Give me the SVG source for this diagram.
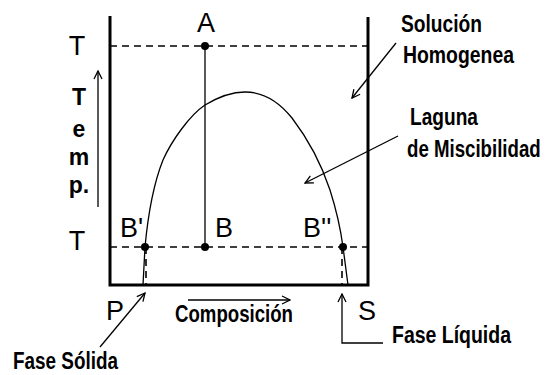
<svg xmlns="http://www.w3.org/2000/svg" width="548" height="375" viewBox="0 0 548 375">
<style>
.lbl{font-family:"Liberation Sans",Arial,sans-serif;font-size:27px;fill:#000}
.tmp{font-family:"Liberation Sans",Arial,sans-serif;font-size:23px;font-weight:bold;fill:#000}
.nar{font-family:"Liberation Sans",Arial,sans-serif;font-size:23px;font-weight:bold;fill:#000}
.wall{stroke:#000;stroke-width:3;fill:none}
.dash{stroke:#000;stroke-width:1.6;stroke-dasharray:7,5;fill:none}
.thin{stroke:#000;stroke-width:1.3;fill:none}
</style>
<defs>
<marker id="open" viewBox="0 0 10 10" refX="9" refY="5" markerWidth="10" markerHeight="10" markerUnits="userSpaceOnUse" orient="auto">
<polyline points="1,1 9,5 1,9" fill="none" stroke="#000" stroke-width="1.3"/>
</marker>
</defs>
<rect width="548" height="375" fill="#fff"/>
<g id="frame">
<polyline class="wall" points="110,16 110,285 368,285 368,17"/>
</g>
<g id="curve">
<path class="thin" d="M143,285 L145,247 C148,215 153,185 163,160 C172,140 190,115 205,105 C220,96 232,92 245,92 C265,92 280,103 292,118 C305,135 320,160 330,190 C337,212 341,232 343,247 L348,285"/>
</g>
<g id="connectors">
<line class="dash" x1="110" y1="46" x2="368" y2="46"/>
<line class="dash" x1="110" y1="247" x2="368" y2="247"/>
<line class="dash" x1="146" y1="247" x2="146" y2="285"/>
<line class="dash" x1="342" y1="247" x2="342" y2="285"/>
<line class="thin" x1="205" y1="46" x2="205" y2="247"/>
<line class="thin" x1="98" y1="207" x2="98" y2="71" marker-end="url(#open)"/>
<line class="thin" x1="188" y1="300" x2="290" y2="300" marker-end="url(#open)"/>
<line class="thin" x1="396" y1="43" x2="352" y2="98" marker-end="url(#open)"/>
<line class="thin" x1="398" y1="136" x2="305" y2="183" marker-end="url(#open)"/>
<line class="thin" x1="100" y1="347" x2="145" y2="293" marker-end="url(#open)"/>
<polyline class="thin" points="383,343 342,343 342,294" marker-end="url(#open)"/>
</g>
<g id="points">
<circle cx="205" cy="46" r="4"/>
<circle cx="205" cy="247" r="4"/>
<circle cx="145" cy="247" r="4"/>
<circle cx="343" cy="247" r="4"/>
</g>
<g id="labels">
<text class="lbl" x="77" y="55" text-anchor="middle">T</text>
<text class="lbl" x="77" y="250" text-anchor="middle">T</text>
<text class="lbl" x="206" y="32" text-anchor="middle">A</text>
<text class="lbl" x="120" y="237">B'</text>
<text class="lbl" x="215" y="237">B</text>
<text class="lbl" x="303" y="237">B''</text>
<text class="lbl" x="106" y="320">P</text>
<text class="lbl" x="358" y="320">S</text>
<text class="tmp" x="79" y="105" text-anchor="middle">T</text>
<text class="tmp" x="79" y="137" text-anchor="middle">e</text>
<text class="tmp" x="79" y="165" text-anchor="middle">m</text>
<text class="tmp" x="79" y="193" text-anchor="middle">p.</text>
<text class="nar" x="401" y="32" textLength="81" lengthAdjust="spacingAndGlyphs">Solución</text>
<text class="nar" x="403" y="63" textLength="111" lengthAdjust="spacingAndGlyphs">Homogenea</text>
<text class="nar" x="410" y="125" textLength="68" lengthAdjust="spacingAndGlyphs">Laguna</text>
<text class="nar" transform="translate(407,157) scale(0.82,1)" x="0" y="0" textLength="163" lengthAdjust="spacingAndGlyphs">de Miscibilidad</text>
<text class="nar" x="175" y="322" textLength="118" lengthAdjust="spacingAndGlyphs">Composición</text>
<text class="nar" x="13" y="369" textLength="105" lengthAdjust="spacingAndGlyphs">Fase Sólida</text>
<text class="nar" x="392" y="343" textLength="119" lengthAdjust="spacingAndGlyphs">Fase Líquida</text>
</g>
</svg>
